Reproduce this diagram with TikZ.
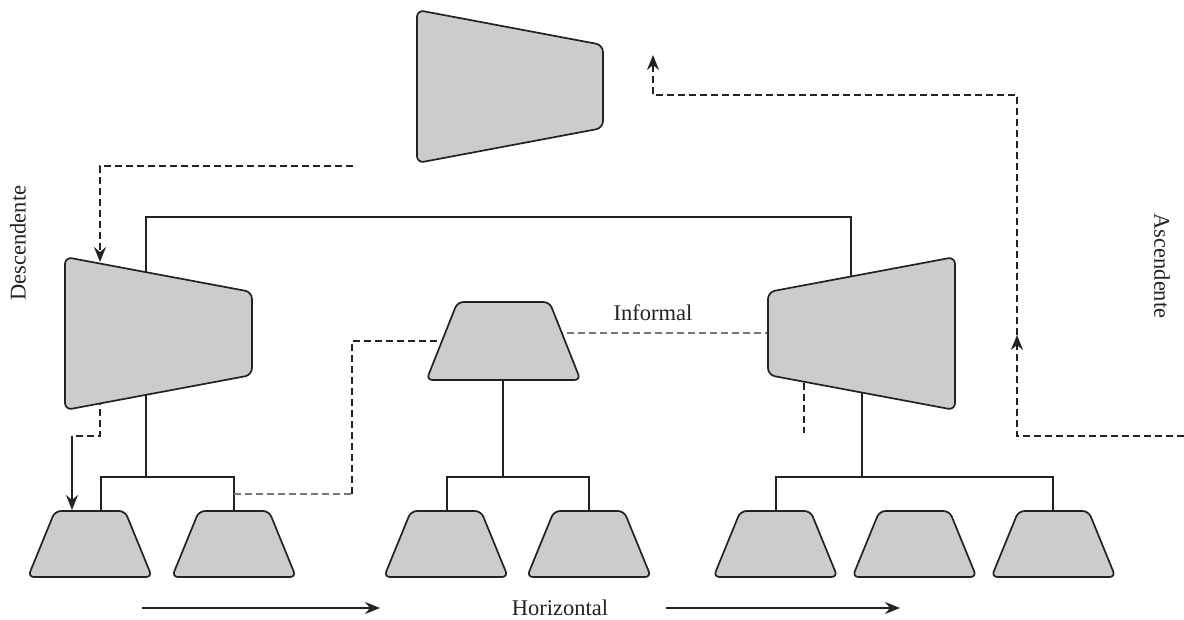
\documentclass[tikz,border=0pt]{standalone}
\usepackage{fontspec}
\setmainfont{Liberation Serif}
\usetikzlibrary{arrows.meta,calc}
\definecolor{shapefill}{HTML}{CCCCCC}
\definecolor{ink}{HTML}{222222}
\definecolor{lightdash}{HTML}{777777}
\begin{document}
\begin{tikzpicture}[x=1pt,y=-1pt,
  trap/.style={draw=ink,fill=shapefill,line width=1.7pt,rounded corners=7pt,line join=round},
  link/.style={draw=ink,line width=1.6pt},
  dlink/.style={draw=ink,line width=1.6pt,dash pattern=on 7pt off 4pt},
  glink/.style={draw=lightdash,line width=1.1pt,dash pattern=on 7pt off 4pt},
  tip/.style={-{Stealth[length=15pt,width=12pt,inset=5pt]}},
  lbl/.style={font=\fontsize{22.5}{27}\selectfont,inner sep=0pt,text=ink}]
\useasboundingbox (0,0) rectangle (1184,619);

% shape centres
\coordinate (T) at (510,86.5);
\coordinate (A) at (158.5,333.5);
\coordinate (B) at (503.5,341);
\coordinate (C) at (861.5,333.5);
\coordinate (s1) at (90,544);
\coordinate (s2) at (234,544);
\coordinate (s3) at (446,544);
\coordinate (s4) at (589,544);
\coordinate (s5) at (775.5,544);
\coordinate (s6) at (914.5,544);
\coordinate (s7) at (1053.5,544);

% junction coordinates
\coordinate (Ain) at (146,290);
\coordinate (Atl) at (146,217);
\coordinate (Ctl) at (851,217);
\coordinate (Cin) at (851,290);
\coordinate (Aout) at (146,385);
\coordinate (Aj) at (146,477);
\coordinate (l1) at (101,477);
\coordinate (l1d) at (101,520);
\coordinate (l2) at (234,477);
\coordinate (l2d) at (234,520);
\coordinate (Bout) at (503,370);
\coordinate (Bj) at (503,477);
\coordinate (m1) at (447,477);
\coordinate (m1d) at (447,520);
\coordinate (m2) at (589,477);
\coordinate (m2d) at (589,520);
\coordinate (Cout) at (862,385);
\coordinate (Cj) at (862,477);
\coordinate (r1) at (776,477);
\coordinate (r1d) at (776,520);
\coordinate (r2) at (1053,477);
\coordinate (r2d) at (1053,520);

% solid tree connectors (drawn behind shapes)
\draw[link] (Ain) -- (Atl) -- (Ctl) -- (Cin);
\draw[link] (Aout) -- (Aj);
\draw[link] (l1d) -- (l1) -- (l2) -- (l2d);
\draw[link] (Bout) -- (Bj);
\draw[link] (m1d) -- (m1) -- (m2) -- (m2d);
\draw[link] (Cout) -- (Cj);
\draw[link] (r1d) -- (r1) -- (r2) -- (r2d);

% dashed connectors behind shapes
\coordinate (g0) at (234,494);
\coordinate (g1) at (352,494);
\coordinate (g2) at (352,341);
\coordinate (g3) at (450,341);
\draw[glink] (g0) -- (g1);
\draw[dlink] (g1) -- (g2) -- (g3);
\coordinate (i0) at (556,333);
\coordinate (i1) at (775,333);
\draw[glink] (i0) -- (i1);
\coordinate (v0) at (804,372);
\coordinate (v1) at (804,433);
\draw[dlink] (v0) -- (v1);
\coordinate (d0) at (100,398);
\coordinate (d1) at (100,436);
\coordinate (d2) at (72,436);
\draw[dlink] (d0) -- (d1) -- (d2);

% shapes
\draw[trap] ($(T)+(-93,-76.5)$) -- ++(186,35) -- ++(0,83) -- ++(-186,35) -- cycle;
\draw[trap] ($(A)+(-93.5,-76.5)$) -- ++(187,35) -- ++(0,83) -- ++(-187,35) -- cycle;
\draw[trap] ($(C)+(-93.5,-41.5)$) -- ++(187,-35) -- ++(0,153) -- ++(-187,-35) -- cycle;
\draw[trap,rounded corners=6pt] ($(B)+(-46,-39)$) -- ++(92,0) -- ++(31,78) -- ++(-154,0) -- cycle;
\foreach \s in {s1,s2,s3,s4,s5,s6,s7}{
  \draw[trap,rounded corners=6pt] ($(\s)+(-35,-33)$) -- ++(70,0) -- ++(27,66) -- ++(-124,0) -- cycle;
}

% arrowed connectors
\coordinate (e0) at (353,166);
\coordinate (e1) at (100,166);
\coordinate (e2) at (100,262);
\draw[dlink,tip] (e0) -- (e1) -- (e2);
\coordinate (s1top) at (72,510);
\draw[link,tip] (d2) -- (s1top);
\coordinate (u0) at (1184,436);
\coordinate (u1) at (1017,436);
\coordinate (u2) at (1017,335);
\coordinate (u3) at (1017,95);
\coordinate (u4) at (653,95);
\coordinate (u5) at (653,55);
\draw[dlink,tip] (u0) -- (u1) -- (u2);
\draw[dlink,tip] (u2) -- (u3) -- (u4) -- (u5);

% labels
\node[lbl,rotate=90] (desc) at (18,243) {Descendente};
\node[lbl,rotate=-90] (asc) at (1162,266) {Ascendente};
\node[lbl] (inf) at (653,313) {Informal};
\node[lbl] (hor) at (560,608) {Horizontal};
\coordinate (h0) at (142,608);
\coordinate (h1) at (380,608);
\coordinate (h2) at (666,608);
\coordinate (h3) at (900,608);
\draw[link,tip] (h0) -- (h1);
\draw[link,tip] (h2) -- (h3);
\end{tikzpicture}
\end{document}
